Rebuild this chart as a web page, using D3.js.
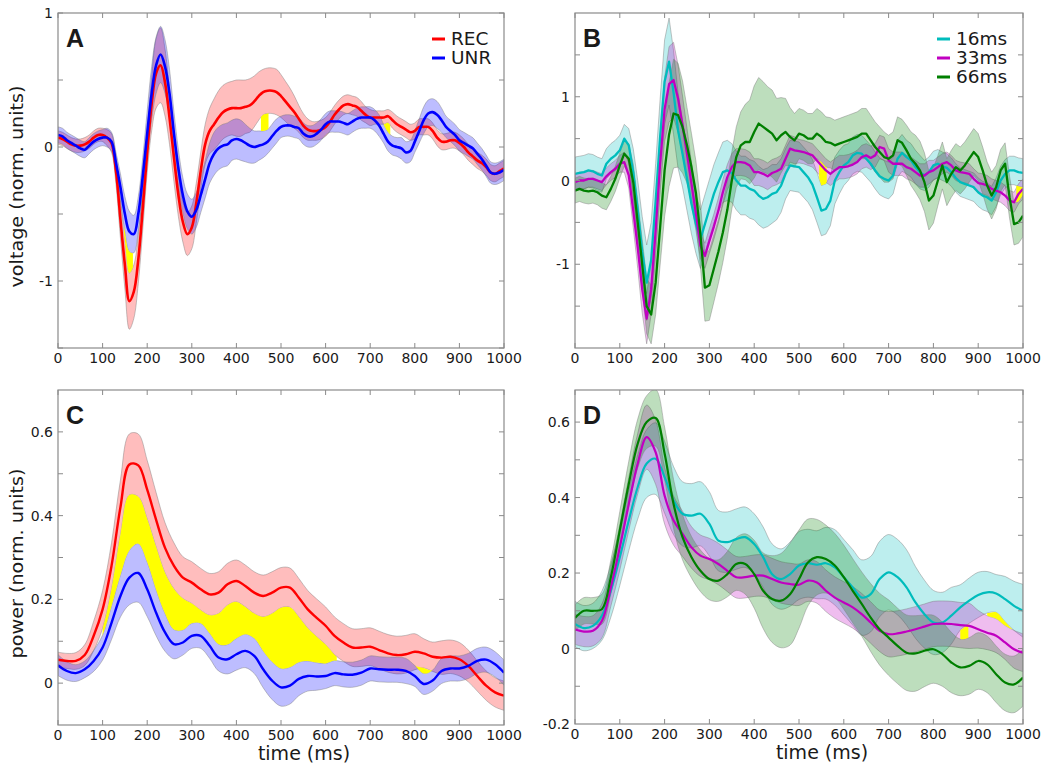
<!DOCTYPE html>
<html>
<head>
<meta charset="utf-8">
<script src="https://cdn.jsdelivr.net/npm/d3@7"></script>
<style>
  body { margin: 0; background: #fff; }
  svg text { font-family: "DejaVu Sans", Verdana, sans-serif; fill: #1a1a1a; }
</style>
</head>
<body>
<div id="figure"></div>
<script>
// time grids (ms): voltage traces are sampled every 10 ms, power every 20 ms
const fineTimes = d3.range(0, 1001, 10);
const coarseTimes = d3.range(0, 1001, 20);
const timeTicks = [0, 100, 200, 300, 400, 500, 600, 700, 800, 900, 1000];

// ---- panel A : voltage, REC vs UNR ----
const recVoltage = [
  0.07, 0.06, 0.04, 0.02, 0.01, 0.01, 0.02, 0.04, 0.07, 0.09,
  0.09, 0.07, 0.03, -0.18, -0.54, -0.88, -1.15, -1.08, -0.84, -0.46,
  -0.04, 0.32, 0.55, 0.61, 0.48, 0.22, -0.08, -0.36, -0.56, -0.65,
  -0.6, -0.42, -0.18, 0.02, 0.12, 0.17, 0.22, 0.26, 0.28, 0.29,
  0.29, 0.29, 0.3, 0.31, 0.34, 0.38, 0.41, 0.42, 0.42, 0.41,
  0.38, 0.34, 0.3, 0.26, 0.21, 0.16, 0.13, 0.12, 0.12, 0.13,
  0.15, 0.19, 0.24, 0.28, 0.31, 0.32, 0.31, 0.3, 0.27, 0.24,
  0.22, 0.22, 0.22, 0.22, 0.23, 0.2, 0.17, 0.15, 0.13, 0.11,
  0.12, 0.15, 0.15, 0.15, 0.12, 0.07, 0.04, 0.04, 0.05, 0.05,
  0.03, 0.0, -0.04, -0.07, -0.1, -0.12, -0.15, -0.19, -0.2, -0.18,
  -0.16];
const recVoltageErr = [
  0.05, 0.05, 0.05, 0.05, 0.05, 0.05, 0.05, 0.05, 0.05, 0.05,
  0.05, 0.06, 0.07, 0.1, 0.14, 0.18, 0.21, 0.2, 0.18, 0.16,
  0.15, 0.2, 0.26, 0.28, 0.25, 0.2, 0.18, 0.16, 0.15, 0.16,
  0.16, 0.15, 0.14, 0.15, 0.17, 0.19, 0.2, 0.2, 0.2, 0.2,
  0.21, 0.21, 0.2, 0.2, 0.19, 0.18, 0.17, 0.17, 0.17, 0.17,
  0.16, 0.15, 0.14, 0.12, 0.1, 0.09, 0.08, 0.07, 0.07, 0.07,
  0.07, 0.07, 0.07, 0.07, 0.07, 0.07, 0.07, 0.07, 0.07, 0.06,
  0.06, 0.05, 0.05, 0.05, 0.05, 0.06, 0.06, 0.06, 0.06, 0.06,
  0.06, 0.06, 0.06, 0.06, 0.06, 0.06, 0.06, 0.06, 0.06, 0.06,
  0.06, 0.06, 0.06, 0.06, 0.06, 0.06, 0.06, 0.06, 0.06, 0.06,
  0.06];
const unrVoltage = [
  0.09, 0.08, 0.05, 0.03, 0.01, -0.01, -0.02, 0.01, 0.04, 0.06,
  0.07, 0.07, 0.04, -0.12, -0.3, -0.5, -0.63, -0.65, -0.5, -0.22,
  0.1, 0.4, 0.61, 0.69, 0.6, 0.4, 0.1, -0.16, -0.36, -0.48,
  -0.52, -0.47, -0.36, -0.24, -0.12, -0.05, -0.01, 0.01, 0.02, 0.05,
  0.06, 0.05, 0.03, 0.01, 0.0, 0.01, 0.02, 0.04, 0.08, 0.12,
  0.15, 0.16, 0.16, 0.15, 0.14, 0.1, 0.08, 0.08, 0.1, 0.13,
  0.17, 0.19, 0.19, 0.19, 0.18, 0.17, 0.19, 0.21, 0.22, 0.22,
  0.22, 0.2, 0.16, 0.1, 0.04, 0.01, 0.0, -0.01, -0.04, -0.03,
  0.04, 0.12, 0.2, 0.25, 0.26, 0.24, 0.2, 0.15, 0.12, 0.09,
  0.05, 0.03, 0.01, -0.01, -0.05, -0.09, -0.14, -0.19, -0.2, -0.19,
  -0.17];
const unrVoltageErr = [
  0.06, 0.06, 0.06, 0.06, 0.06, 0.06, 0.06, 0.06, 0.06, 0.06,
  0.06, 0.07, 0.07, 0.08, 0.1, 0.13, 0.15, 0.14, 0.13, 0.14,
  0.17, 0.2, 0.21, 0.21, 0.2, 0.18, 0.16, 0.14, 0.13, 0.13,
  0.13, 0.13, 0.13, 0.14, 0.15, 0.16, 0.16, 0.16, 0.16, 0.15,
  0.15, 0.15, 0.14, 0.13, 0.12, 0.11, 0.1, 0.09, 0.09, 0.09,
  0.08, 0.08, 0.08, 0.08, 0.08, 0.08, 0.08, 0.08, 0.08, 0.08,
  0.08, 0.08, 0.08, 0.08, 0.08, 0.08, 0.08, 0.08, 0.08, 0.08,
  0.08, 0.08, 0.08, 0.07, 0.07, 0.07, 0.07, 0.08, 0.08, 0.08,
  0.08, 0.09, 0.1, 0.1, 0.1, 0.1, 0.09, 0.08, 0.08, 0.08,
  0.08, 0.08, 0.08, 0.08, 0.08, 0.08, 0.08, 0.08, 0.08, 0.08,
  0.08];

// ---- panel B : voltage by presentation time ----
const isi16Voltage = [
  0.08, 0.09, 0.1, 0.12, 0.11, 0.08, 0.06, 0.2, 0.26, 0.3,
  0.36, 0.5, 0.42, 0.1, -0.35, -0.85, -1.22, -0.95, -0.25, 0.52,
  1.18, 1.42, 1.05, 0.6, 0.32, 0.02, -0.28, -0.52, -0.7, -0.52,
  -0.34, -0.16, -0.02, 0.1, 0.12, 0.09, 0.0, -0.06, -0.06, -0.1,
  -0.12, -0.18, -0.22, -0.2, -0.16, -0.14, -0.06, 0.08, 0.18, 0.17,
  0.16, 0.1, 0.04, -0.05, -0.2, -0.36, -0.34, -0.24, 0.0, 0.1,
  0.18, 0.22, 0.3, 0.33, 0.32, 0.26, 0.2, 0.12, 0.05, 0.02,
  0.0, 0.06, 0.26, 0.33, 0.28, 0.24, 0.16, 0.1, 0.06, 0.1,
  0.18, 0.2, 0.17, 0.15, 0.1, 0.03, -0.02, -0.04, -0.06, -0.08,
  -0.14, -0.18, -0.2, -0.24, -0.14, 0.0, 0.08, 0.12, 0.12, 0.1,
  0.09];
const isi16VoltageErr = [
  0.2, 0.2, 0.2, 0.2, 0.2, 0.2, 0.2, 0.18, 0.18, 0.18,
  0.18, 0.17, 0.2, 0.28, 0.35, 0.42, 0.45, 0.45, 0.45, 0.45,
  0.5, 0.52, 0.5, 0.45, 0.4, 0.38, 0.36, 0.35, 0.35, 0.35,
  0.35, 0.35, 0.35, 0.36, 0.36, 0.35, 0.35, 0.35, 0.35, 0.35,
  0.35, 0.35, 0.35, 0.35, 0.35, 0.33, 0.32, 0.3, 0.3, 0.3,
  0.3, 0.3, 0.3, 0.3, 0.3, 0.3, 0.3, 0.3, 0.28, 0.26,
  0.24, 0.22, 0.22, 0.22, 0.22, 0.22, 0.22, 0.22, 0.22, 0.22,
  0.22, 0.22, 0.22, 0.22, 0.2, 0.2, 0.2, 0.2, 0.18, 0.18,
  0.17, 0.17, 0.17, 0.17, 0.17, 0.17, 0.17, 0.17, 0.17, 0.17,
  0.17, 0.17, 0.17, 0.17, 0.17, 0.17, 0.17, 0.17, 0.17, 0.17,
  0.17];
const isi33Voltage = [
  -0.02, 0.0, 0.0, 0.02, 0.02, 0.0, -0.02, 0.05, 0.1, 0.14,
  0.2, 0.22, 0.06, -0.36, -0.8, -1.3, -1.65, -1.3, -0.6, 0.2,
  0.85, 1.15, 1.2, 0.98, 0.66, 0.32, -0.04, -0.4, -0.78, -0.9,
  -0.72, -0.55, -0.36, -0.14, 0.04, 0.16, 0.22, 0.22, 0.21, 0.18,
  0.1, 0.1, 0.08, 0.05, 0.09, 0.11, 0.14, 0.26, 0.38, 0.36,
  0.35, 0.34, 0.32, 0.3, 0.24, 0.18, 0.12, 0.08, 0.12, 0.16,
  0.16, 0.17, 0.19, 0.22, 0.28, 0.3, 0.27, 0.3, 0.4, 0.38,
  0.24, 0.2, 0.2, 0.2, 0.16, 0.14, 0.1, 0.06, 0.06, 0.1,
  0.12, 0.16, 0.2, 0.22, 0.18, 0.12, 0.1, 0.09, 0.08, 0.02,
  -0.03, -0.04, -0.06, -0.1, -0.12, -0.14, -0.18, -0.24, -0.26, -0.16,
  -0.1];
const isi33VoltageErr = [
  0.1, 0.1, 0.1, 0.1, 0.1, 0.1, 0.1, 0.1, 0.1, 0.1,
  0.1, 0.12, 0.15, 0.2, 0.25, 0.28, 0.3, 0.3, 0.3, 0.32,
  0.38, 0.45, 0.45, 0.4, 0.35, 0.3, 0.25, 0.2, 0.15, 0.15,
  0.15, 0.15, 0.15, 0.15, 0.15, 0.16, 0.16, 0.16, 0.16, 0.16,
  0.16, 0.16, 0.16, 0.16, 0.16, 0.16, 0.16, 0.16, 0.16, 0.16,
  0.14, 0.14, 0.14, 0.14, 0.14, 0.14, 0.14, 0.14, 0.14, 0.14,
  0.14, 0.14, 0.14, 0.14, 0.14, 0.14, 0.14, 0.14, 0.14, 0.14,
  0.14, 0.14, 0.14, 0.14, 0.14, 0.14, 0.14, 0.14, 0.14, 0.14,
  0.12, 0.12, 0.12, 0.12, 0.12, 0.12, 0.12, 0.12, 0.12, 0.12,
  0.12, 0.12, 0.12, 0.12, 0.12, 0.12, 0.12, 0.12, 0.12, 0.12,
  0.12];
const isi66Voltage = [
  -0.12, -0.1, -0.12, -0.13, -0.12, -0.14, -0.18, -0.2, -0.1, 0.02,
  0.18, 0.32, 0.26, -0.02, -0.5, -1.0, -1.5, -1.6, -1.22, -0.56,
  0.12, 0.55, 0.8, 0.78, 0.64, 0.42, 0.16, -0.15, -0.65, -1.28,
  -1.25, -1.05, -0.85, -0.62, -0.35, 0.0, 0.28, 0.42, 0.46, 0.46,
  0.58, 0.68, 0.64, 0.6, 0.56, 0.48, 0.54, 0.58, 0.52, 0.48,
  0.56, 0.54, 0.5, 0.5, 0.56, 0.52, 0.46, 0.45, 0.42, 0.44,
  0.46, 0.48, 0.5, 0.52, 0.56, 0.56, 0.48, 0.4, 0.34, 0.28,
  0.26, 0.3, 0.48, 0.45, 0.36, 0.26, 0.2, 0.12, -0.02, -0.24,
  -0.18, 0.0, 0.18, -0.02, 0.08, 0.16, 0.12, 0.18, 0.26, 0.34,
  0.28, 0.12, -0.06, -0.18, -0.08, 0.12, 0.2, -0.2, -0.52, -0.5,
  -0.42];
const isi66VoltageErr = [
  0.15, 0.15, 0.15, 0.15, 0.15, 0.15, 0.15, 0.15, 0.15, 0.15,
  0.15, 0.15, 0.18, 0.22, 0.26, 0.3, 0.33, 0.35, 0.38, 0.45,
  0.55, 0.62, 0.65, 0.62, 0.55, 0.45, 0.4, 0.38, 0.38, 0.4,
  0.42, 0.4, 0.38, 0.36, 0.34, 0.34, 0.36, 0.4, 0.45, 0.5,
  0.55, 0.55, 0.54, 0.52, 0.52, 0.5, 0.45, 0.4, 0.35, 0.32,
  0.3, 0.3, 0.3, 0.3, 0.3, 0.3, 0.3, 0.3, 0.3, 0.3,
  0.3, 0.3, 0.3, 0.3, 0.3, 0.3, 0.3, 0.3, 0.3, 0.3,
  0.28, 0.28, 0.28, 0.28, 0.3, 0.32, 0.34, 0.35, 0.35, 0.35,
  0.33, 0.3, 0.28, 0.28, 0.28, 0.28, 0.28, 0.28, 0.28, 0.28,
  0.28, 0.28, 0.28, 0.28, 0.26, 0.25, 0.25, 0.25, 0.25, 0.25,
  0.25];

// ---- panel C : power, REC vs UNR ----
const recPower = [
  0.056, 0.053, 0.053, 0.067, 0.113, 0.176, 0.28, 0.42, 0.522, 0.52,
  0.462, 0.39, 0.323, 0.28, 0.252, 0.24, 0.224, 0.212, 0.216, 0.236,
  0.244, 0.232, 0.216, 0.208, 0.216, 0.228, 0.228, 0.204, 0.176, 0.156,
  0.137, 0.113, 0.097, 0.085, 0.085, 0.087, 0.079, 0.071, 0.067, 0.069,
  0.075, 0.071, 0.063, 0.061, 0.063, 0.057, 0.041, 0.017, -0.006, -0.022,
  -0.03];
const recPowerErr = [
  0.018, 0.018, 0.02, 0.025, 0.035, 0.045, 0.055, 0.065, 0.073, 0.075,
  0.07, 0.065, 0.06, 0.055, 0.05, 0.05, 0.05, 0.05, 0.05, 0.05,
  0.05, 0.05, 0.05, 0.05, 0.05, 0.048, 0.047, 0.046, 0.045, 0.045,
  0.045, 0.045, 0.045, 0.045, 0.045, 0.045, 0.045, 0.045, 0.045, 0.045,
  0.043, 0.035, 0.035, 0.04, 0.04, 0.04, 0.038, 0.036, 0.035, 0.035,
  0.035];
const unrPower = [
  0.043, 0.029, 0.024, 0.033, 0.053, 0.085, 0.144, 0.208, 0.252, 0.263,
  0.224, 0.168, 0.121, 0.093, 0.097, 0.113, 0.113, 0.089, 0.061, 0.057,
  0.069, 0.077, 0.065, 0.033, 0.006, -0.01, -0.006, 0.01, 0.017, 0.016,
  0.017, 0.024, 0.021, 0.02, 0.025, 0.035, 0.033, 0.032, 0.032, 0.029,
  0.017, -0.002, 0.006, 0.029, 0.035, 0.035, 0.041, 0.053, 0.056, 0.045,
  0.025];
const unrPowerErr = [
  0.025, 0.022, 0.02, 0.02, 0.025, 0.03, 0.04, 0.05, 0.065, 0.07,
  0.065, 0.055, 0.045, 0.035, 0.03, 0.03, 0.03, 0.03, 0.032, 0.035,
  0.038, 0.04, 0.042, 0.044, 0.045, 0.045, 0.044, 0.04, 0.036, 0.033,
  0.03, 0.03, 0.03, 0.03, 0.03, 0.03, 0.03, 0.03, 0.03, 0.03,
  0.025, 0.025, 0.025, 0.03, 0.03, 0.03, 0.03, 0.03, 0.03, 0.03,
  0.03];

// ---- panel D : power by presentation time ----
const isi16Power = [
  0.065, 0.054, 0.06, 0.087, 0.153, 0.242, 0.339, 0.428, 0.49, 0.503,
  0.454, 0.392, 0.357, 0.352, 0.357, 0.33, 0.286, 0.282, 0.29, 0.295,
  0.277, 0.242, 0.197, 0.184, 0.197, 0.22, 0.226, 0.222, 0.226, 0.215,
  0.189, 0.162, 0.135, 0.144, 0.184, 0.202, 0.189, 0.162, 0.122, 0.091,
  0.069, 0.069, 0.087, 0.109, 0.127, 0.142, 0.149, 0.146, 0.131, 0.113,
  0.1];
const isi16PowerErr = [
  0.06, 0.06, 0.06, 0.065, 0.07, 0.075, 0.08, 0.085, 0.09, 0.095,
  0.095, 0.09, 0.085, 0.085, 0.085, 0.085, 0.08, 0.08, 0.08, 0.08,
  0.08, 0.08, 0.08, 0.08, 0.085, 0.09, 0.09, 0.09, 0.095, 0.1,
  0.1, 0.1, 0.1, 0.1, 0.1, 0.1, 0.1, 0.1, 0.095, 0.09,
  0.085, 0.08, 0.075, 0.06, 0.06, 0.06, 0.055, 0.05, 0.06, 0.065,
  0.07];
const isi33Power = [
  0.051, 0.045, 0.047, 0.073, 0.162, 0.268, 0.383, 0.49, 0.56, 0.52,
  0.405, 0.339, 0.304, 0.268, 0.246, 0.237, 0.224, 0.206, 0.189, 0.189,
  0.193, 0.193, 0.184, 0.175, 0.171, 0.169, 0.18, 0.175, 0.153, 0.135,
  0.122, 0.109, 0.091, 0.069, 0.047, 0.038, 0.04, 0.045, 0.051, 0.058,
  0.065, 0.066, 0.065, 0.062, 0.06, 0.051, 0.042, 0.034, 0.016, -0.002,
  -0.011];
const isi33PowerErr = [
  0.04, 0.04, 0.04, 0.045, 0.05, 0.06, 0.07, 0.08, 0.085, 0.085,
  0.075, 0.065, 0.06, 0.055, 0.055, 0.055, 0.055, 0.055, 0.055, 0.055,
  0.055, 0.055, 0.055, 0.055, 0.055, 0.055, 0.055, 0.055, 0.055, 0.055,
  0.055, 0.055, 0.055, 0.055, 0.055, 0.06, 0.06, 0.06, 0.06, 0.06,
  0.06, 0.06, 0.06, 0.06, 0.06, 0.05, 0.045, 0.045, 0.045, 0.05,
  0.05];
const isi66Power = [
  0.081, 0.1, 0.1, 0.104, 0.189, 0.313, 0.436, 0.543, 0.6, 0.611,
  0.517, 0.383, 0.295, 0.242, 0.206, 0.184, 0.18, 0.197, 0.224, 0.224,
  0.197, 0.153, 0.131, 0.127, 0.144, 0.184, 0.228, 0.242, 0.237, 0.22,
  0.189, 0.153, 0.118, 0.082, 0.051, 0.029, 0.007, -0.011, -0.013, -0.006,
  -0.002, -0.015, -0.037, -0.05, -0.046, -0.033, -0.042, -0.068, -0.09, -0.095,
  -0.077];
const isi66PowerErr = [
  0.035, 0.035, 0.035, 0.04, 0.045, 0.05, 0.06, 0.065, 0.07, 0.075,
  0.07, 0.065, 0.06, 0.055, 0.055, 0.055, 0.055, 0.06, 0.07, 0.08,
  0.09, 0.1, 0.115, 0.125, 0.135, 0.13, 0.115, 0.1, 0.09, 0.085,
  0.085, 0.085, 0.085, 0.09, 0.095, 0.1, 0.1, 0.1, 0.1, 0.095,
  0.09, 0.085, 0.08, 0.075, 0.075, 0.075, 0.075, 0.075, 0.075, 0.075,
  0.075];

// significant windows (ms), marked in yellow
const sigWindowsA = [[148, 168], [455, 472], [728, 745]];
const sigWindowsB = [[545, 562], [985, 1000]];
const sigWindowsC = [[100, 625], [800, 840]];
const sigWindowsD16v66 = [[860, 878]];
const sigWindowsD16v33 = [[920, 975]];

const groupLabels = ["REC", "UNR"];
const isiLabels = ["16ms", "33ms", "66ms"];

const colors = {
  rec: "#ff0000", unr: "#0000ff",
  isi16: "#00bcbc", isi33: "#c000c0", isi66: "#007f00",
  sig: "#ffff00", frame: "#8a8a8a"
};


class Figure {

  constructor() {
    this.width = 1050;
    this.height = 771;
    this.svg = d3.select("#figure")
      .append("svg")
      .attr("width", this.width)
      .attr("height", this.height);
    this.clipCount = 0;
  }

  addPanel(opts) {
    let x = d3.scaleLinear().domain([0, 1000]).range([opts.left, opts.left + opts.w]);
    let y = d3.scaleLinear().domain(opts.yDomain).range([opts.top + opts.h, opts.top]);
    let g = this.svg.append("g");

    let clipId = "clip" + (this.clipCount++);
    g.append("clipPath").attr("id", clipId)
      .append("rect")
      .attr("x", opts.left).attr("y", opts.top)
      .attr("width", opts.w).attr("height", opts.h);
    let plot = g.append("g").attr("clip-path", `url(#${clipId})`);

    // error bands
    opts.series.forEach((s) => {
      let area = d3.area()
        .curve(opts.curve)
        .x((d, i) => x(s.times[i]))
        .y0((d, i) => y(s.mean[i] - s.err[i]))
        .y1((d, i) => y(s.mean[i] + s.err[i]));
      plot.append("path")
        .datum(s.mean)
        .attr("d", area)
        .attr("fill", s.color)
        .attr("fill-opacity", 0.26)
        .attr("stroke", "#7a7a7a")
        .attr("stroke-opacity", 0.55)
        .attr("stroke-width", 0.8);
    });

    // yellow: gap between two bands inside the significant windows
    (opts.sig || []).forEach((sig) => this.drawSignificance(g, plot, x, y, opts, sig));

    // mean traces
    opts.series.forEach((s) => {
      plot.append("path")
        .datum(s.mean)
        .attr("d", d3.line().curve(opts.curve)
          .x((d, i) => x(s.times[i]))
          .y((d) => y(d)))
        .attr("fill", "none")
        .attr("stroke", s.color)
        .attr("stroke-width", opts.lineWidth)
        .attr("stroke-linejoin", "round");
    });

    this.drawFrame(g, x, y, opts);

    g.append("text")
      .attr("x", opts.left + 8)
      .attr("y", opts.top + 34)
      .attr("font-weight", "bold")
      .attr("font-size", 25)
      .style("font-family", "'Liberation Sans', Arial, sans-serif")
      .text(opts.letter);

    if (opts.legend) this.drawLegend(g, opts.legend);
  }

  drawSignificance(g, plot, x, y, opts, sig) {
    let a = sig.a, b = sig.b;
    let gap = a.times.map((t, i) => {
      let lo = Math.max(a.mean[i] - a.err[i], b.mean[i] - b.err[i]);
      let hi = Math.min(a.mean[i] + a.err[i], b.mean[i] + b.err[i]);
      return { t: t, hi: hi, lo: Math.max(lo, hi) };
    });
    let sigClip = "clip" + (this.clipCount++);
    g.append("clipPath").attr("id", sigClip)
      .selectAll("rect")
      .data(sig.windows)
      .join("rect")
      .attr("x", (d) => x(d[0]))
      .attr("width", (d) => x(d[1]) - x(d[0]))
      .attr("y", opts.top)
      .attr("height", opts.h);
    plot.append("path")
      .datum(gap)
      .attr("clip-path", `url(#${sigClip})`)
      .attr("d", d3.area()
        .curve(opts.curve)
        .x((d) => x(d.t))
        .y0((d) => y(d.hi))
        .y1((d) => y(d.lo)))
      .attr("fill", colors.sig);
  }

  drawFrame(g, x, y, opts) {
    let x0 = opts.left, x1 = opts.left + opts.w;
    let y0 = opts.top + opts.h, y1 = opts.top;
    let tick = 5;

    g.append("rect")
      .attr("x", x0).attr("y", y1)
      .attr("width", opts.w).attr("height", opts.h)
      .attr("fill", "none")
      .attr("stroke", colors.frame)
      .attr("stroke-width", 1.2);

    let ticks = g.append("g").attr("stroke", colors.frame).attr("stroke-width", 1);
    timeTicks.forEach((t) => {
      ticks.append("line").attr("x1", x(t)).attr("x2", x(t)).attr("y1", y0).attr("y2", y0 - tick);
      ticks.append("line").attr("x1", x(t)).attr("x2", x(t)).attr("y1", y1).attr("y2", y1 + tick);
    });
    opts.yTicks.forEach((v) => {
      ticks.append("line").attr("y1", y(v)).attr("y2", y(v)).attr("x1", x0).attr("x2", x0 + tick);
      ticks.append("line").attr("y1", y(v)).attr("y2", y(v)).attr("x1", x1).attr("x2", x1 - tick);
    });

    g.append("g")
      .selectAll("text")
      .data(timeTicks)
      .join("text")
      .attr("x", (d) => x(d))
      .attr("y", y0 + 15)
      .attr("text-anchor", "middle")
      .attr("font-size", 14)
      .text((d) => d);

    g.append("g")
      .selectAll("text")
      .data(opts.yLabels)
      .join("text")
      .attr("x", x0 - 5)
      .attr("y", (d) => y(d))
      .attr("dy", "0.36em")
      .attr("text-anchor", "end")
      .attr("font-size", 14)
      .text((d) => String(d));

    if (opts.xTitle) {
      g.append("text")
        .attr("x", opts.left + opts.w / 2 + 23)
        .attr("y", y0 + 35)
        .attr("text-anchor", "middle")
        .attr("font-size", 19)
        .text(opts.xTitle);
    }
    if (opts.yTitle) {
      g.append("text")
        .attr("transform", `translate(23,${opts.top + opts.h / 2 + 6}) rotate(-90)`)
        .attr("text-anchor", "middle")
        .attr("font-size", 18.5)
        .attr("textLength", opts.yTitleLength)
        .attr("lengthAdjust", "spacingAndGlyphs")
        .text(opts.yTitle);
    }
  }

  drawLegend(g, legend) {
    let rows = g.append("g")
      .selectAll("g")
      .data(legend.items)
      .join("g")
      .attr("transform", (d, i) => `translate(${legend.x},${legend.y + i * 19})`);
    rows.append("line")
      .attr("x1", 0).attr("x2", 13)
      .attr("y1", -6).attr("y2", -6)
      .attr("stroke", (d) => d.color)
      .attr("stroke-width", 3);
    rows.append("text")
      .attr("x", 19)
      .attr("font-size", 18.5)
      .text((d) => d.label);
  }
}


let fig = new Figure();

let recA = { times: fineTimes, mean: recVoltage, err: recVoltageErr, color: colors.rec };
let unrA = { times: fineTimes, mean: unrVoltage, err: unrVoltageErr, color: colors.unr };
fig.addPanel({
  letter: "A", left: 58, top: 13, w: 446, h: 335,
  yDomain: [-1.5, 1], yTicks: [-1.5, -1, -0.5, 0, 0.5, 1], yLabels: [-1, 0, 1],
  curve: d3.curveCatmullRom, lineWidth: 2.6,
  series: [recA, unrA],
  sig: [{ a: recA, b: unrA, windows: sigWindowsA }],
  yTitle: "voltage (norm. units)", yTitleLength: 202,
  legend: { x: 432, y: 45, items: [
    { label: groupLabels[0], color: colors.rec },
    { label: groupLabels[1], color: colors.unr }] }
});

let i16B = { times: fineTimes, mean: isi16Voltage, err: isi16VoltageErr, color: colors.isi16 };
let i33B = { times: fineTimes, mean: isi33Voltage, err: isi33VoltageErr, color: colors.isi33 };
let i66B = { times: fineTimes, mean: isi66Voltage, err: isi66VoltageErr, color: colors.isi66 };
fig.addPanel({
  letter: "B", left: 575, top: 13, w: 448, h: 335,
  yDomain: [-2, 2], yTicks: [-1.5, -1, -0.5, 0, 0.5, 1, 1.5], yLabels: [-1, 0, 1],
  curve: d3.curveLinear, lineWidth: 2.3,
  series: [i16B, i33B, i66B],
  sig: [{ a: i16B, b: i66B, windows: sigWindowsB }],
  legend: { x: 937, y: 45, items: [
    { label: isiLabels[0], color: colors.isi16 },
    { label: isiLabels[1], color: colors.isi33 },
    { label: isiLabels[2], color: colors.isi66 }] }
});

let recC = { times: coarseTimes, mean: recPower, err: recPowerErr, color: colors.rec };
let unrC = { times: coarseTimes, mean: unrPower, err: unrPowerErr, color: colors.unr };
fig.addPanel({
  letter: "C", left: 58, top: 390, w: 446, h: 335,
  yDomain: [-0.1, 0.7], yTicks: [0, 0.1, 0.2, 0.3, 0.4, 0.5, 0.6], yLabels: [0, 0.2, 0.4, 0.6],
  curve: d3.curveCatmullRom, lineWidth: 2.4,
  series: [recC, unrC],
  sig: [{ a: recC, b: unrC, windows: sigWindowsC }],
  yTitle: "power (norm. units)", yTitleLength: 190, xTitle: "time (ms)"
});

let i16D = { times: coarseTimes, mean: isi16Power, err: isi16PowerErr, color: colors.isi16 };
let i33D = { times: coarseTimes, mean: isi33Power, err: isi33PowerErr, color: colors.isi33 };
let i66D = { times: coarseTimes, mean: isi66Power, err: isi66PowerErr, color: colors.isi66 };
fig.addPanel({
  letter: "D", left: 575, top: 390, w: 448, h: 334,
  yDomain: [-0.2, 0.685], yTicks: [-0.1, 0, 0.1, 0.2, 0.3, 0.4, 0.5, 0.6], yLabels: [-0.2, 0, 0.2, 0.4, 0.6],
  curve: d3.curveCatmullRom, lineWidth: 2.2,
  series: [i16D, i33D, i66D],
  sig: [
    { a: i16D, b: i66D, windows: sigWindowsD16v66 },
    { a: i16D, b: i33D, windows: sigWindowsD16v33 }],
  xTitle: "time (ms)"
});
</script>
</body>
</html>
